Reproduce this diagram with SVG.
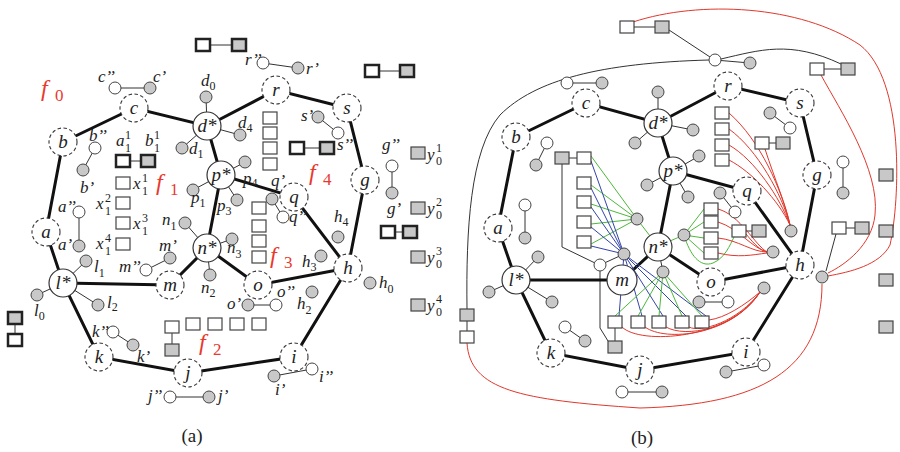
<svg xmlns="http://www.w3.org/2000/svg" width="900" height="452" viewBox="0 0 900 452">
<style>
.e{stroke:#111;stroke-width:3;fill:none;stroke-linecap:round}
.t{stroke:#333;stroke-width:1;fill:none}
.dn{fill:#fff;stroke:#333;stroke-width:1.1;stroke-dasharray:3.5 2.5}
.sn{fill:#fff;stroke:#333;stroke-width:1.2}
.gc{fill:#c8c8c8;stroke:#444;stroke-width:1}
.wc{fill:#fff;stroke:#444;stroke-width:1}
.ws{fill:#fff;stroke:#444;stroke-width:1.2}
.gs{fill:#c8c8c8;stroke:#444;stroke-width:1.2}
.bw{fill:#fff;stroke:#222;stroke-width:2.5}
.bg{fill:#c8c8c8;stroke:#222;stroke-width:2.5}
text{font-family:"Liberation Serif","Times New Roman",serif;font-style:italic;fill:#222}
.nl{font-size:19px;text-anchor:middle}
.lb{font-size:17px}
.s{font-size:12px;font-style:normal}
.f{fill:#e8392f;font-size:24px}
.fs{fill:#e8392f;font-size:17px;font-style:normal}
.cap{font-size:19px;font-style:normal;text-anchor:middle}
.red{stroke:#e0382c;stroke-width:1;fill:none}
.grn{stroke:#4cb83a;stroke-width:1;fill:none}
.blu{stroke:#3344aa;stroke-width:1;fill:none}
</style>

<!-- ===================== panel (a) ===================== -->
<g id="a-connectors">
  <!-- face boundary edges -->
  <path class="e" d="M63,142 L134,108 L207,126 L276,90 L347,108 L365,180 L348,268 L294,357 L188,373 L99,357 L63,283 L46,232 Z"/>
  <path class="e" d="M207,126 L221,175 L207,248 L258,285 L348,268 M221,175 L294,197 L348,268 M63,283 L170,285 L207,248"/>
  <!-- pendant edges -->
  <path class="t" d="M115,88 L150,88 M263,63 L298,68 M206,97 L207,126 L182,148 M207,126 L240,135 M318,117 L338,133 M95,148 L83,170 M79,212 L79,246 M86,261 L63,283 L37,295 M63,283 L98,305 M146,270 L170,258 M185,223 L207,248 L210,275 M207,248 L232,239 M193,190 L221,175 L245,162 M221,175 L237,200 M272,199 L283,217 M392,166 L392,193 M248,305 L276,305 M113,332 L133,345 M170,397 L209,397 M274,376 L312,369"/>
  <!-- square pairs -->
  <path class="t" d="M203,45 L239,45 M372,71 L407,71 M123,161 L148,161 M297,148 L327,148 M388,232 L410,232 M15,318 L15,340 M172,327 L172,350"/>
</g>

<g id="a-nodes">
  <g id="a-c"><circle class="dn" cx="134" cy="108" r="14"/><text class="nl" x="134" y="114">c</text></g>
  <g id="a-b"><circle class="dn" cx="63" cy="142" r="14"/><text class="nl" x="63" y="148">b</text></g>
  <g id="a-a"><circle class="dn" cx="46" cy="232" r="14"/><text class="nl" x="46" y="238">a</text></g>
  <g id="a-l"><circle class="sn" cx="63" cy="283" r="14"/><text class="nl" x="63" y="289">l*</text></g>
  <g id="a-m"><circle class="dn" cx="170" cy="285" r="14"/><text class="nl" x="170" y="291">m</text></g>
  <g id="a-n"><circle class="sn" cx="207" cy="248" r="14"/><text class="nl" x="207" y="254">n*</text></g>
  <g id="a-p"><circle class="sn" cx="221" cy="175" r="14"/><text class="nl" x="221" y="181">p*</text></g>
  <g id="a-d"><circle class="sn" cx="207" cy="126" r="14"/><text class="nl" x="207" y="132">d*</text></g>
  <g id="a-r"><circle class="dn" cx="276" cy="90" r="14"/><text class="nl" x="276" y="96">r</text></g>
  <g id="a-s"><circle class="dn" cx="347" cy="108" r="14"/><text class="nl" x="347" y="114">s</text></g>
  <g id="a-g"><circle class="dn" cx="365" cy="180" r="14"/><text class="nl" x="365" y="186">g</text></g>
  <g id="a-q"><circle class="dn" cx="294" cy="197" r="14"/><text class="nl" x="294" y="203">q</text></g>
  <g id="a-h"><circle class="dn" cx="348" cy="268" r="14"/><text class="nl" x="348" y="274">h</text></g>
  <g id="a-o"><circle class="dn" cx="258" cy="285" r="14"/><text class="nl" x="258" y="291">o</text></g>
  <g id="a-i"><circle class="dn" cx="294" cy="357" r="14"/><text class="nl" x="294" y="363">i</text></g>
  <g id="a-j"><circle class="dn" cx="188" cy="373" r="14"/><text class="nl" x="188" y="379">j</text></g>
  <g id="a-k"><circle class="dn" cx="99" cy="357" r="14"/><text class="nl" x="99" y="363">k</text></g>

  <g id="a-small">
    <circle class="wc" cx="115" cy="88" r="6"/><circle class="gc" cx="150" cy="88" r="6"/>
    <circle class="gc" cx="206" cy="97" r="6"/><circle class="gc" cx="182" cy="148" r="6"/><circle class="gc" cx="240" cy="135" r="6"/>
    <circle class="wc" cx="263" cy="63" r="6"/><circle class="gc" cx="298" cy="68" r="6"/>
    <circle class="gc" cx="318" cy="117" r="6"/><circle class="wc" cx="338" cy="133" r="6"/>
    <circle class="wc" cx="95" cy="148" r="6"/><circle class="gc" cx="83" cy="170" r="6"/>
    <circle class="wc" cx="79" cy="212" r="6"/><circle class="gc" cx="79" cy="246" r="6"/>
    <circle class="gc" cx="86" cy="261" r="6"/><circle class="gc" cx="37" cy="295" r="6"/><circle class="gc" cx="98" cy="305" r="6"/>
    <circle class="wc" cx="146" cy="270" r="6"/><circle class="gc" cx="170" cy="258" r="6"/>
    <circle class="gc" cx="185" cy="223" r="6"/><circle class="gc" cx="210" cy="275" r="6"/><circle class="gc" cx="232" cy="239" r="6"/>
    <circle class="gc" cx="193" cy="190" r="6"/><circle class="gc" cx="245" cy="162" r="6"/><circle class="gc" cx="237" cy="200" r="6"/>
    <circle class="gc" cx="272" cy="199" r="6"/><circle class="wc" cx="283" cy="217" r="6"/>
    <circle class="wc" cx="392" cy="166" r="6"/><circle class="gc" cx="392" cy="193" r="6"/>
    <circle class="gc" cx="338" cy="237" r="6"/><circle class="gc" cx="321" cy="256" r="6"/><circle class="gc" cx="370" cy="283" r="6"/><circle class="gc" cx="312" cy="292" r="6"/>
    <circle class="gc" cx="248" cy="305" r="6"/><circle class="wc" cx="276" cy="305" r="6"/>
    <circle class="wc" cx="113" cy="332" r="6"/><circle class="gc" cx="133" cy="345" r="6"/>
    <circle class="wc" cx="170" cy="397" r="6"/><circle class="gc" cx="209" cy="397" r="6"/>
    <circle class="gc" cx="274" cy="376" r="6"/><circle class="wc" cx="312" cy="369" r="6"/>
  </g>

  <g id="a-squares">
    <rect class="bw" x="196" y="39" width="14" height="12"/><rect class="bg" x="232" y="39" width="14" height="12"/>
    <rect class="bw" x="365" y="65" width="14" height="12"/><rect class="bg" x="400" y="65" width="14" height="12"/>
    <rect class="bw" x="116" y="155" width="14" height="12"/><rect class="bg" x="141" y="155" width="14" height="12"/>
    <rect class="bw" x="290" y="142" width="14" height="12"/><rect class="bg" x="320" y="142" width="14" height="12"/>
    <rect class="bw" x="381" y="226" width="14" height="12"/><rect class="bg" x="403" y="226" width="14" height="12"/>
    <rect class="bg" x="8" y="312" width="14" height="12"/><rect class="bw" x="8" y="334" width="14" height="12"/>
    <rect class="ws" x="116" y="177" width="14" height="12"/><rect class="ws" x="116" y="197" width="14" height="12"/>
    <rect class="ws" x="116" y="217" width="14" height="12"/><rect class="ws" x="116" y="238" width="14" height="12"/>
    <rect class="ws" x="263" y="112" width="14" height="12"/><rect class="ws" x="263" y="127" width="14" height="12"/>
    <rect class="ws" x="263" y="142" width="14" height="12"/><rect class="ws" x="263" y="158" width="14" height="12"/>
    <rect class="ws" x="252" y="202" width="14" height="12"/><rect class="ws" x="252" y="220" width="14" height="12"/>
    <rect class="ws" x="252" y="235" width="14" height="12"/><rect class="ws" x="252" y="251" width="14" height="12"/>
    <rect class="ws" x="165" y="321" width="14" height="12"/><rect class="gs" x="165" y="344" width="14" height="12"/>
    <rect class="ws" x="186" y="318" width="14" height="12"/><rect class="ws" x="208" y="318" width="14" height="12"/>
    <rect class="ws" x="230" y="318" width="14" height="12"/><rect class="ws" x="252" y="318" width="14" height="12"/>
    <rect class="gs" x="411" y="147" width="14" height="12"/><rect class="gs" x="411" y="202" width="14" height="12"/>
    <rect class="gs" x="411" y="251" width="14" height="12"/><rect class="gs" x="411" y="299" width="14" height="12"/>
  </g>
</g>

<g id="a-labels">
  <text class="f" x="41" y="96">f</text><text class="fs" x="55" y="101">0</text>
  <text class="f" x="156" y="190">f</text><text class="fs" x="170" y="195">1</text>
  <text class="f" x="199" y="350">f</text><text class="fs" x="213" y="355">2</text>
  <text class="f" x="270" y="263">f</text><text class="fs" x="284" y="268">3</text>
  <text class="f" x="309" y="180">f</text><text class="fs" x="323" y="185">4</text>

  <text class="lb" x="98" y="82">c’’</text><text class="lb" x="153" y="82">c’</text>
  <text class="lb" x="201" y="86">d<tspan class="s" dy="4">0</tspan></text>
  <text class="lb" x="238" y="128">d<tspan class="s" dy="4">4</tspan></text>
  <text class="lb" x="189" y="154">d<tspan class="s" dy="4">1</tspan></text>
  <text class="lb" x="245" y="65">r’’</text><text class="lb" x="306" y="74">r’</text>
  <text class="lb" x="301" y="121">s’</text><text class="lb" x="337" y="150">s’’</text>
  <text class="lb" x="89" y="141">b’’</text><text class="lb" x="80" y="193">b’</text>
  <text class="lb" x="116" y="146">a</text><text class="s" x="125" y="139">1</text><text class="s" x="125" y="152">1</text>
  <text class="lb" x="145" y="146">b</text><text class="s" x="154" y="139">1</text><text class="s" x="154" y="152">1</text>
  <text class="lb" x="133" y="189">x</text><text class="s" x="142" y="182">1</text><text class="s" x="142" y="195">1</text>
  <text class="lb" x="96" y="209">x</text><text class="s" x="105" y="202">2</text><text class="s" x="105" y="215">1</text>
  <text class="lb" x="133" y="229">x</text><text class="s" x="142" y="222">3</text><text class="s" x="142" y="235">1</text>
  <text class="lb" x="96" y="249">x</text><text class="s" x="105" y="242">4</text><text class="s" x="105" y="255">1</text>
  <text class="lb" x="58" y="212">a’’</text><text class="lb" x="58" y="250">a’</text>
  <text class="lb" x="94" y="272">l<tspan class="s" dy="5">1</tspan></text>
  <text class="lb" x="34" y="316">l<tspan class="s" dy="4">0</tspan></text>
  <text class="lb" x="107" y="308">l<tspan class="s" dy="3">2</tspan></text>
  <text class="lb" x="159" y="251">m’</text><text class="lb" x="119" y="272">m’’</text>
  <text class="lb" x="162" y="225">n<tspan class="s" dy="5">1</tspan></text>
  <text class="lb" x="201" y="293">n<tspan class="s" dy="4">2</tspan></text>
  <text class="lb" x="227" y="253">n<tspan class="s" dy="5">3</tspan></text>
  <text class="lb" x="191" y="203">p<tspan class="s" dy="4">1</tspan></text>
  <text class="lb" x="217" y="211">p<tspan class="s" dy="4">3</tspan></text>
  <text class="lb" x="243" y="184">p<tspan class="s" dy="3">4</tspan></text>
  <text class="lb" x="271" y="186">q’</text><text class="lb" x="289" y="222">q’’</text>
  <text class="lb" x="382" y="150">g’’</text><text class="lb" x="387" y="214">g’</text>
  <text class="lb" x="334" y="222">h<tspan class="s" dy="4">4</tspan></text>
  <text class="lb" x="302" y="267">h<tspan class="s" dy="4">3</tspan></text>
  <text class="lb" x="379" y="288">h<tspan class="s" dy="5">0</tspan></text>
  <text class="lb" x="297" y="309">h<tspan class="s" dy="5">2</tspan></text>
  <text class="lb" x="227" y="309">o’</text><text class="lb" x="277" y="297">o’’</text>
  <text class="lb" x="92" y="337">k’’</text><text class="lb" x="137" y="362">k’</text>
  <text class="lb" x="148" y="401">j’’</text><text class="lb" x="218" y="401">j’</text>
  <text class="lb" x="275" y="395">i’</text><text class="lb" x="319" y="382">i’’</text>
  <text class="lb" x="427" y="160">y</text><text class="s" x="436" y="152">1</text><text class="s" x="436" y="165">0</text>
  <text class="lb" x="427" y="214">y</text><text class="s" x="436" y="206">2</text><text class="s" x="436" y="219">0</text>
  <text class="lb" x="427" y="263">y</text><text class="s" x="436" y="255">3</text><text class="s" x="436" y="268">0</text>
  <text class="lb" x="427" y="311">y</text><text class="s" x="436" y="303">4</text><text class="s" x="436" y="316">0</text>
  <text class="cap" x="192" y="442">(a)</text>
</g>

<!-- ===================== panel (b) ===================== -->
<g id="b-connectors">
  <!-- long routed curves -->
  <path class="t" d="M467,309 C466,230 470,150 500,115 C535,80 600,63 709,60"/>
  <path class="t" d="M721,59 C760,50 790,40 841,64"/>
  <path class="t" d="M669,30 L710,57 M562,164 L562,247 L595,263 M600,271 L600,328 L608,341 M615,328 L615,341 M826,271 L836,234"/>
  <path class="red" d="M633,22 C700,0 800,5 860,45 C905,80 900,200 890,245 C880,265 850,272 828,276"/>
  <path class="red" d="M821,75 C840,110 880,170 875,215 C872,245 845,265 828,273"/>
  <path class="red" d="M467,343 C470,390 520,400 640,408 C760,405 822,370 822,284"/>

  <!-- face boundary edges -->
  <path class="e" d="M516,137 L586,103 L658,123 L728,86 L800,103 L817,175 L800,265 L746,352 L640,370 L551,353 L516,280 L498,228 Z"/>
  <path class="e" d="M658,123 L673,171 L658,247 L711,282 L800,265 M673,171 L747,191 L800,265 M516,280 L622,280 L658,247"/>

  <!-- pendant edges -->
  <path class="t" d="M567,83 L602,83 M715,60 L750,63 M658,92 L658,123 L635,143 M658,123 L693,130 M770,113 L790,128 M547,143 L536,165 M525,205 L525,238 M538,257 L516,280 L489,292 M516,280 L552,302 M600,265 L624,254 M663,272 L658,247 M647,185 L673,171 L699,156 M673,171 L688,197 M720,193 L735,212 M843,162 L843,193 M699,302 L728,302 M565,327 L585,341 M622,392 L662,392 M726,372 L764,365"/>
  <path class="t" d="M627,27 L662,27 M817,69 L848,69 M762,143 L783,143 M562,158 L584,158 M739,231 L759,231 M839,228 L862,228 M467,315 L467,337"/>

  <!-- colored fans -->
  <path class="grn" d="M637,219 L591,156 M637,219 L591,185 M637,219 L591,204 M637,219 L591,224 M637,219 L591,244 M637,219 L650,236"/>
  <path class="blu" d="M624,254 L591,161 M624,254 L591,188 M624,254 L591,207 M624,254 L591,227 M624,254 L591,246"/>
  <path class="blu" d="M624,254 L619,316 M624,254 L642,316 M624,254 L663,316 M624,254 L686,316 M624,254 L706,316"/>
  <path class="grn" d="M663,272 L615,316 M663,272 L638,316 M663,272 L659,316 M663,272 L682,316 M663,272 L702,316"/>
  <path class="grn" d="M684,235 L704,209 M684,235 L704,222 M684,235 L704,238 M684,235 L704,253 M684,235 L670,241 M684,235 C690,255 700,268 713,263 C725,258 730,245 734,237"/>
  <path class="red" d="M718,209 C740,215 755,245 767,252 M718,222 C738,228 752,248 767,252 M718,238 C738,240 752,252 767,252 M718,253 C738,258 752,255 767,253 M746,234 C755,245 760,250 767,252"/>
  <path class="red" d="M729,113 C760,140 782,190 790,225 M729,129 C758,150 782,195 790,225 M729,145 C755,160 780,198 790,225 M729,160 C752,172 778,200 790,225 M765,149 C775,180 786,205 790,225"/>
  <path class="red" d="M622,327 C640,345 730,340 760,292 M645,327 C665,342 732,336 760,292 M666,327 C685,338 735,330 760,292 M689,327 C700,333 738,322 760,292 M709,320 C725,318 745,305 760,292"/>
</g>

<g id="b-nodes">
  <g id="b-c"><circle class="dn" cx="586" cy="103" r="14"/><text class="nl" x="586" y="109">c</text></g>
  <g id="b-b"><circle class="dn" cx="516" cy="137" r="14"/><text class="nl" x="516" y="143">b</text></g>
  <g id="b-a"><circle class="dn" cx="498" cy="228" r="14"/><text class="nl" x="498" y="234">a</text></g>
  <g id="b-l"><circle class="sn" cx="516" cy="280" r="14"/><text class="nl" x="516" y="286">l*</text></g>
  <g id="b-m"><circle class="sn" cx="622" cy="280" r="15"/><text class="nl" x="622" y="286">m</text></g>
  <g id="b-n"><circle class="sn" cx="658" cy="247" r="14"/><text class="nl" x="658" y="253">n*</text></g>
  <g id="b-p"><circle class="sn" cx="673" cy="171" r="14"/><text class="nl" x="673" y="177">p*</text></g>
  <g id="b-d"><circle class="sn" cx="658" cy="123" r="14"/><text class="nl" x="658" y="129">d*</text></g>
  <g id="b-r"><circle class="dn" cx="728" cy="86" r="14"/><text class="nl" x="728" y="92">r</text></g>
  <g id="b-s"><circle class="dn" cx="800" cy="103" r="14"/><text class="nl" x="800" y="109">s</text></g>
  <g id="b-g"><circle class="dn" cx="817" cy="175" r="14"/><text class="nl" x="817" y="181">g</text></g>
  <g id="b-q"><circle class="dn" cx="747" cy="191" r="14"/><text class="nl" x="747" y="197">q</text></g>
  <g id="b-h"><circle class="dn" cx="800" cy="265" r="14"/><text class="nl" x="800" y="271">h</text></g>
  <g id="b-o"><circle class="dn" cx="711" cy="282" r="14"/><text class="nl" x="711" y="288">o</text></g>
  <g id="b-i"><circle class="dn" cx="746" cy="352" r="14"/><text class="nl" x="746" y="358">i</text></g>
  <g id="b-j"><circle class="dn" cx="640" cy="370" r="14"/><text class="nl" x="640" y="376">j</text></g>
  <g id="b-k"><circle class="dn" cx="551" cy="353" r="14"/><text class="nl" x="551" y="359">k</text></g>

  <g id="b-small">
    <circle class="wc" cx="567" cy="83" r="6"/><circle class="gc" cx="602" cy="83" r="6"/>
    <circle class="gc" cx="658" cy="92" r="6"/><circle class="gc" cx="635" cy="143" r="6"/><circle class="gc" cx="693" cy="130" r="6"/>
    <circle class="wc" cx="715" cy="60" r="6"/><circle class="gc" cx="750" cy="63" r="6"/>
    <circle class="gc" cx="770" cy="113" r="6"/><circle class="wc" cx="790" cy="128" r="6"/>
    <circle class="wc" cx="547" cy="143" r="6"/><circle class="gc" cx="536" cy="165" r="6"/>
    <circle class="wc" cx="525" cy="205" r="6"/><circle class="gc" cx="525" cy="238" r="6"/>
    <circle class="gc" cx="538" cy="257" r="6"/><circle class="gc" cx="489" cy="292" r="6"/><circle class="gc" cx="552" cy="302" r="6"/>
    <circle class="wc" cx="600" cy="265" r="6"/><circle class="gc" cx="624" cy="254" r="6"/>
    <circle class="gc" cx="637" cy="219" r="6"/><circle class="gc" cx="663" cy="272" r="6"/><circle class="gc" cx="684" cy="235" r="6"/>
    <circle class="gc" cx="647" cy="185" r="6"/><circle class="gc" cx="699" cy="156" r="6"/><circle class="gc" cx="688" cy="197" r="6"/>
    <circle class="gc" cx="720" cy="193" r="6"/><circle class="wc" cx="735" cy="212" r="6"/>
    <circle class="wc" cx="843" cy="162" r="6"/><circle class="gc" cx="843" cy="193" r="6"/>
    <circle class="gc" cx="791" cy="231" r="6"/><circle class="gc" cx="773" cy="252" r="6"/><circle class="gc" cx="822" cy="277" r="6"/><circle class="gc" cx="764" cy="288" r="6"/>
    <circle class="gc" cx="699" cy="302" r="6"/><circle class="wc" cx="728" cy="302" r="6"/>
    <circle class="wc" cx="565" cy="327" r="6"/><circle class="gc" cx="585" cy="341" r="6"/>
    <circle class="wc" cx="622" cy="392" r="6"/><circle class="gc" cx="662" cy="392" r="6"/>
    <circle class="gc" cx="726" cy="372" r="6"/><circle class="wc" cx="764" cy="365" r="6"/>
  </g>

  <g id="b-squares">
    <rect class="ws" x="620" y="21" width="14" height="12"/><rect class="gs" x="655" y="21" width="14" height="12"/>
    <rect class="ws" x="810" y="63" width="14" height="12"/><rect class="gs" x="841" y="63" width="14" height="12"/>
    <rect class="ws" x="715" y="107" width="14" height="12"/><rect class="ws" x="715" y="123" width="14" height="12"/>
    <rect class="ws" x="715" y="139" width="14" height="12"/><rect class="ws" x="715" y="154" width="14" height="12"/>
    <rect class="ws" x="755" y="137" width="14" height="12"/><rect class="gs" x="776" y="137" width="14" height="12"/>
    <rect class="gs" x="555" y="152" width="14" height="12"/><rect class="ws" x="577" y="152" width="14" height="12"/>
    <rect class="ws" x="577" y="177" width="14" height="12"/><rect class="ws" x="577" y="196" width="14" height="12"/>
    <rect class="ws" x="577" y="216" width="14" height="12"/><rect class="ws" x="577" y="236" width="14" height="12"/>
    <rect class="ws" x="704" y="203" width="14" height="12"/><rect class="ws" x="704" y="216" width="14" height="12"/>
    <rect class="ws" x="704" y="232" width="14" height="12"/><rect class="ws" x="704" y="247" width="14" height="12"/>
    <rect class="ws" x="732" y="225" width="14" height="12"/><rect class="gs" x="752" y="225" width="14" height="12"/>
    <rect class="ws" x="832" y="222" width="14" height="12"/><rect class="gs" x="855" y="222" width="14" height="12"/>
    <rect class="gs" x="879" y="169" width="14" height="12"/><rect class="gs" x="879" y="225" width="14" height="12"/>
    <rect class="gs" x="879" y="274" width="14" height="12"/><rect class="gs" x="879" y="321" width="14" height="12"/>
    <rect class="gs" x="460" y="309" width="14" height="12"/><rect class="ws" x="460" y="331" width="14" height="12"/>
    <rect class="ws" x="608" y="316" width="14" height="12"/><rect class="ws" x="631" y="316" width="14" height="12"/>
    <rect class="ws" x="652" y="316" width="14" height="12"/><rect class="ws" x="675" y="316" width="14" height="12"/>
    <rect class="ws" x="695" y="316" width="14" height="12"/>
    <rect class="gs" x="608" y="341" width="14" height="12"/>
  </g>
</g>
<text class="cap" x="642" y="444">(b)</text>
</svg>
